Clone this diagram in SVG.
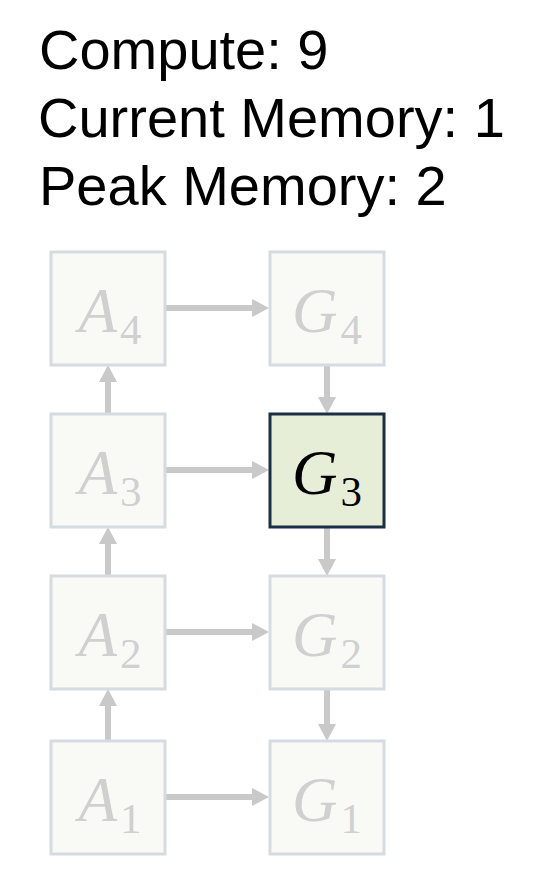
<svg xmlns="http://www.w3.org/2000/svg" width="548" height="886" viewBox="0 0 548 886">
<defs>
<style>
.title{font-family:"Liberation Sans",Arial,sans-serif;font-size:56px;fill:#000}
.box{fill:#f9faf6;stroke:#d5dbe0;stroke-width:3}
.active{fill:#e6eed8;stroke:#1a2e44;stroke-width:3}
.lbl{font-family:"Liberation Serif","Times New Roman",serif;font-size:63px;fill:#d0d0d0;text-anchor:middle}
.lbl-active{fill:#000}
.it{font-style:italic}
.sub{font-size:43px}
.conn{stroke:#c9c9c9;stroke-width:6;fill:none;marker-end:url(#ah)}
</style>
<marker id="ah" markerUnits="userSpaceOnUse" markerWidth="17" markerHeight="18" refX="5" refY="9" orient="auto">
<path d="M0,0 L17,9 L0,18 Z" fill="#c9c9c9"/>
</marker>
</defs>
<rect width="548" height="886" fill="#fff"/>
<g id="stats">
<text class="title" x="39" y="69">Compute: 9</text>
<text class="title" x="38" y="137">Current Memory: 1</text>
<text class="title" x="39" y="205">Peak Memory: 2</text>
</g>
<g id="connectors">
<line class="conn" x1="165" y1="308" x2="257" y2="308"/>
<line class="conn" x1="165" y1="470" x2="257" y2="470"/>
<line class="conn" x1="165" y1="632" x2="257" y2="632"/>
<line class="conn" x1="165" y1="797" x2="257" y2="797"/>
<line class="conn" x1="108" y1="414" x2="108" y2="377"/>
<line class="conn" x1="108" y1="576" x2="108" y2="539"/>
<line class="conn" x1="108" y1="741" x2="108" y2="701"/>
<line class="conn" x1="327" y1="365" x2="327" y2="402"/>
<line class="conn" x1="327" y1="527" x2="327" y2="564"/>
<line class="conn" x1="327" y1="689" x2="327" y2="729"/>
</g>
<g id="A4"><rect class="box" x="51" y="252" width="114" height="113"/><text class="lbl" x="110" y="332"><tspan class="it">A</tspan><tspan class="sub" dx="3" dy="12">4</tspan></text></g>
<g id="G4"><rect class="box" x="270" y="252" width="114" height="113"/><text class="lbl" x="327" y="332"><tspan class="it">G</tspan><tspan class="sub" dx="3" dy="12">4</tspan></text></g>
<g id="A3"><rect class="box" x="51" y="414" width="114" height="113"/><text class="lbl" x="110" y="494"><tspan class="it">A</tspan><tspan class="sub" dx="3" dy="12">3</tspan></text></g>
<g id="G3"><rect class="active" x="270" y="414" width="114" height="113"/><text class="lbl lbl-active" x="327" y="494"><tspan class="it">G</tspan><tspan class="sub" dx="3" dy="12">3</tspan></text></g>
<g id="A2"><rect class="box" x="51" y="576" width="114" height="113"/><text class="lbl" x="110" y="656"><tspan class="it">A</tspan><tspan class="sub" dx="3" dy="12">2</tspan></text></g>
<g id="G2"><rect class="box" x="270" y="576" width="114" height="113"/><text class="lbl" x="327" y="656"><tspan class="it">G</tspan><tspan class="sub" dx="3" dy="12">2</tspan></text></g>
<g id="A1"><rect class="box" x="51" y="741" width="114" height="113"/><text class="lbl" x="110" y="821"><tspan class="it">A</tspan><tspan class="sub" dx="3" dy="12">1</tspan></text></g>
<g id="G1"><rect class="box" x="270" y="741" width="114" height="113"/><text class="lbl" x="327" y="821"><tspan class="it">G</tspan><tspan class="sub" dx="3" dy="12">1</tspan></text></g>
</svg>
